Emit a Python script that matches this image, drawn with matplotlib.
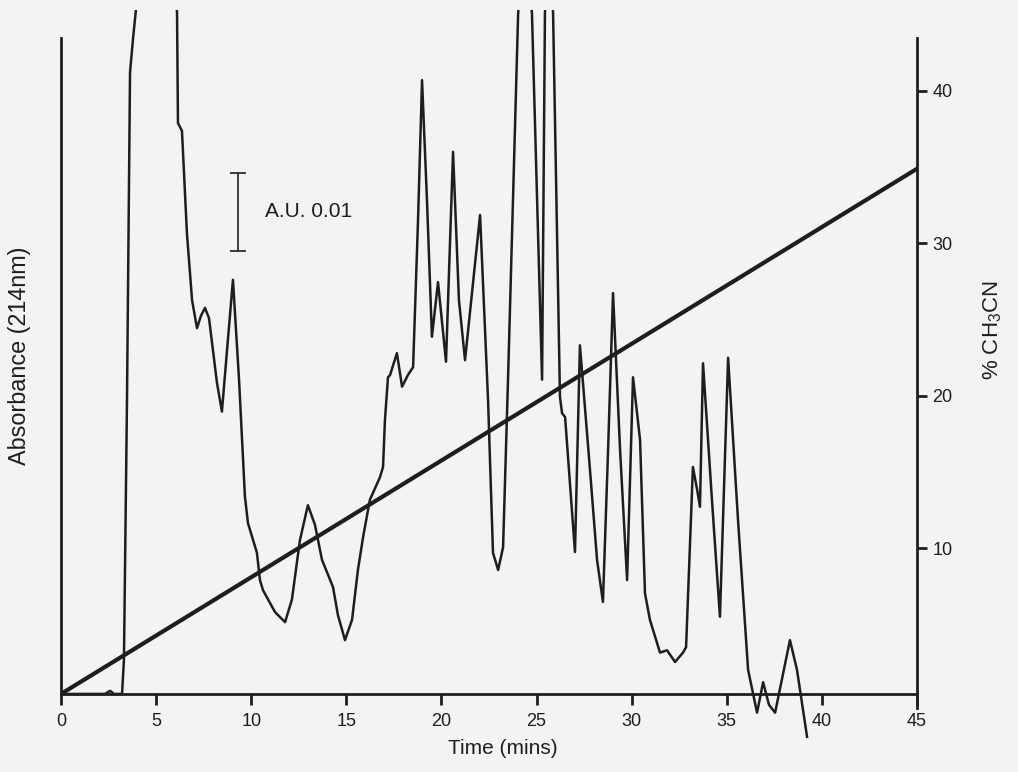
import matplotlib
matplotlib.use("Agg")
import matplotlib.pyplot as plt

plt.rcParams['font.family'] = ['Liberation Sans', 'DejaVu Sans']

# absorbance trace (time in min, absorbance in A.U.)
time_min = [0.00, 2.31, 2.58, 2.79, 3.21, 3.31, 3.47, 3.63, 3.79, 3.94,
            4.99, 6.10, 6.15, 6.36, 6.62, 6.89, 7.15, 7.36, 7.57, 7.78,
            8.20, 8.46, 8.73, 9.04, 9.36, 9.67, 9.83, 10.30, 10.46, 10.62,
            11.25, 11.78, 12.14, 12.56, 12.98, 13.35, 13.72, 14.30, 14.56, 14.93,
            15.30, 15.61, 15.88, 16.24, 16.77, 16.93, 17.03, 17.19, 17.30, 17.66,
            17.93, 18.24, 18.51, 18.77, 18.98, 19.24, 19.50, 19.82, 20.24, 20.61,
            20.92, 21.24, 22.03, 22.45, 22.71, 22.98, 23.24, 23.50, 24.03, 24.39,
            24.76, 25.29, 25.44, 25.65, 25.87, 26.23, 26.34, 26.50, 27.02, 27.28,
            27.81, 28.18, 28.49, 28.76, 29.02, 29.39, 29.76, 30.07, 30.44, 30.70,
            30.96, 31.49, 31.86, 32.28, 32.70, 32.86, 33.22, 33.44, 33.59, 33.75,
            34.22, 34.64, 35.07, 35.59, 36.12, 36.59, 36.91, 37.22, 37.54, 38.32,
            38.69, 39.22]
absorbance = [0.0000, 0.0000, 0.0004, 0.0000, 0.0000, 0.0044, 0.0377, 0.0797, 0.0841, 0.0877,
              0.1146, 0.0874, 0.0732, 0.0722, 0.0591, 0.0505, 0.0469, 0.0485, 0.0495, 0.0482,
              0.0399, 0.0362, 0.0441, 0.0531, 0.0403, 0.0253, 0.0219, 0.0181, 0.0146, 0.0133,
              0.0105, 0.0092, 0.0121, 0.0197, 0.0242, 0.0217, 0.0172, 0.0137, 0.0101, 0.0069,
              0.0095, 0.0159, 0.0201, 0.0249, 0.0278, 0.0291, 0.0351, 0.0406, 0.0409, 0.0437,
              0.0394, 0.0409, 0.0419, 0.0608, 0.0787, 0.0633, 0.0458, 0.0528, 0.0426, 0.0695,
              0.0505, 0.0428, 0.0614, 0.0377, 0.0181, 0.0159, 0.0188, 0.0403, 0.0871, 0.1018,
              0.0871, 0.0403, 0.0871, 0.1018, 0.0871, 0.0381, 0.0360, 0.0355, 0.0182, 0.0447,
              0.0287, 0.0172, 0.0118, 0.0313, 0.0514, 0.0313, 0.0146, 0.0406, 0.0326, 0.0129,
              0.0095, 0.0053, 0.0056, 0.0041, 0.0053, 0.0060, 0.0291, 0.0262, 0.0240, 0.0424,
              0.0249, 0.0099, 0.0431, 0.0223, 0.0031, -0.0024, 0.0015, -0.0014, -0.0024, 0.0069,
              0.0031, -0.0055]

# acetonitrile gradient
grad_time = [0, 45]
grad_pct = [0.46, 34.9]

x_ticks = [0, 5, 10, 15, 20, 25, 30, 35, 40, 45]
pct_ticks = [10, 20, 30, 40]

ink = '#1e1e1e'
paper = '#f3f3f1'

fig = plt.figure(figsize=(10.18, 7.72), dpi=100, facecolor=paper)
ax = fig.add_axes([0.0599, 0.0415, 0.8409, 0.9456])
ax.set_facecolor(paper)

ax.plot(time_min, absorbance, color=ink, lw=1.8)
ax.set_xlim(0, 45)
ax.set_ylim(-0.0059, 0.0877)

# scale bar
ax.errorbar([9.31], [0.0618], yerr=[0.005], color=ink, lw=1.2,
            capsize=6, capthick=1.2)
ax.text(10.72, 0.0618, 'A.U. 0.01', fontsize=15, color=ink, va='center')

for s in ['top', 'right']:
    ax.spines[s].set_visible(False)
ax.spines['left'].set_bounds(0, 0.0841)
ax.spines['bottom'].set_position(('data', 0))
for s in ['left', 'bottom']:
    ax.spines[s].set_linewidth(2)
    ax.spines[s].set_color(ink)
ax.set_yticks([])
ax.set_xticks(x_ticks)
ax.tick_params(axis='x', direction='out', length=8, width=2, colors=ink,
               labelsize=13, pad=6)

# right axis: % CH3CN
ax2 = ax.twinx()
ax2.plot(grad_time, grad_pct, color=ink, lw=3)
ax2.set_ylim(-2.557, 45.31)
for s in ['top', 'left', 'bottom']:
    ax2.spines[s].set_visible(False)
ax2.spines['right'].set_bounds(-0.46, 43.5)
ax2.spines['right'].set_linewidth(2)
ax2.spines['right'].set_color(ink)
ax2.set_yticks(pct_ticks)
ax2.tick_params(axis='y', direction='out', length=7, width=2, colors=ink,
                labelsize=13, pad=4)

fig.text(0.494, 0.031, 'Time (mins)', fontsize=15, color=ink, ha='center', va='center')
fig.text(0.019, 0.539, 'Absorbance (214nm)', fontsize=16.8, color=ink,
         rotation=90, ha='center', va='center')
fig.text(0.975, 0.572, r'% CH$_{\mathregular{3}}$CN', fontsize=16, color=ink,
         rotation=90, ha='center', va='center')

fig.savefig('out.png', dpi=100, facecolor=paper)
